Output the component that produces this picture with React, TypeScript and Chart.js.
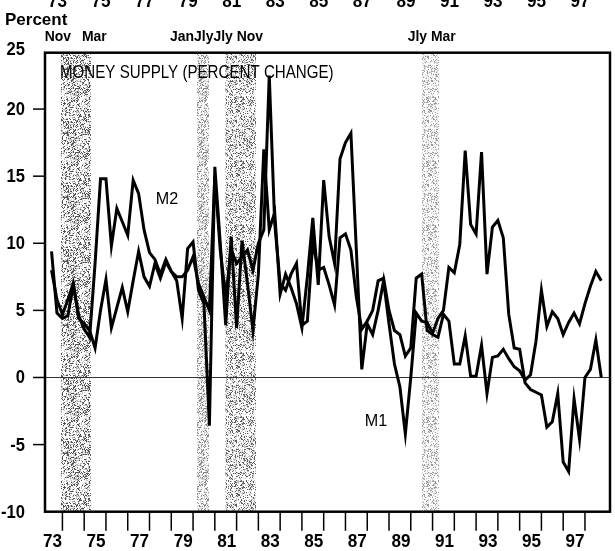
import React, { useEffect, useRef } from "react";
import { Chart, registerables } from "chart.js";

Chart.register(...registerables);

// Quarterly observations, first point at FIRST_QUARTER, one every quarter.
const FIRST_QUARTER = 1973.5;
const QUARTER_STEP = 0.25;

// M1, percent change (annual rate)
const m1Values = [
  8.0, 5.8, 4.7, 5.8, 7.0, 4.4, 4.0, 3.5, 2.2, 5.0,
  7.3, 3.7, 5.2, 6.7, 4.9, 7.2, 9.4, 7.5, 6.8, 8.5,
  7.4, 8.6, 7.9, 7.2, 4.4, 9.6, 10.1, 6.5, 5.5, -3.6,
  15.7, 10.0, 3.9, 10.5, 3.7, 10.2, 7.0, 3.5, 7.7, 17.0,
  11.0, 12.3, 6.2, 7.7, 6.7, 5.5, 3.7, 7.5, 11.9, 6.9,
  14.7, 10.5, 8.5, 16.3, 17.5, 18.2, 9.5, 0.6, 4.0, 3.2,
  5.0, 7.2, 4.0, 1.0, -0.7, -4.2, 0.0, 4.8, 4.2, 4.1,
  3.3, 4.4, 5.0, 8.2, 7.8, 9.9, 16.9, 11.4, 10.7, 16.8,
  7.7, 11.2, 11.7, 10.4, 4.7, 2.2, 2.1, -0.4, -0.9, -1.1,
  -1.3, -3.7, -3.3, -1.2, -6.3, -7.0, -1.6, -4.6, 0.0, 0.6,
  2.8, 0.0,
];

// M2, percent change (annual rate)
const m2Values = [
  9.4, 4.8, 4.4, 4.6, 6.9, 4.6, 3.6, 3.0, 8.5, 14.8,
  14.8, 9.8, 12.6, 11.6, 10.6, 14.7, 13.7, 11.0, 9.3, 8.8,
  7.7, 8.8, 7.9, 7.5, 7.5, 8.0, 9.0, 7.0, 6.0, 5.0,
  15.0, 9.5, 6.0, 9.5, 8.5, 9.0, 9.5, 8.0, 10.0, 11.0,
  22.5, 11.5, 7.0, 6.5, 7.7, 8.5, 3.9, 4.2, 10.1, 8.0,
  8.2, 6.9, 5.4, 10.4, 10.7, 9.5, 6.0, 3.6, 4.2, 5.0,
  7.2, 7.4, 5.0, 3.5, 3.2, 1.6, 2.2, 7.4, 7.7, 3.5,
  3.2, 3.0, 4.7, 4.2, 1.0, 1.0, 3.1, 0.1, 0.1, 2.4,
  -1.2, 1.5, 1.6, 2.1, 1.4, 0.8, 0.5, -0.2, 0.2, 2.7,
  6.5, 3.8, 4.9, 4.4, 3.2, 4.1, 4.8, 4.0, 5.5, 6.8,
  7.9, 7.2,
];

// Axis values
const yTickValues = [-10, -5, 0, 5, 10, 15, 20, 25];
const yearTickValues = [
  1974, 1975, 1976, 1977, 1978, 1979, 1980, 1981, 1982, 1983, 1984, 1985,
  1986, 1987, 1988, 1989, 1990, 1991, 1992, 1993, 1994, 1995, 1996, 1997, 1998,
];
const yearLabelYears = [1973, 1975, 1977, 1979, 1981, 1983, 1985, 1987, 1989, 1991, 1993, 1995, 1997];
const yearLabelTexts = ["73", "75", "77", "79", "81", "83", "85", "87", "89", "91", "93", "95", "97"];

// Recession shading (start, end) in decimal years
const recessionStarts = [1973.93, 1980.18, 1981.49, 1990.52];
const recessionEnds = [1975.31, 1980.73, 1982.89, 1991.3];

// Labels above the frame, anchored at dates
const eventTexts = ["Nov", "Mar", "JanJlyJly Nov", "Jly Mar"];
const eventDates = [1973.83, 1975.17, 1980.0, 1990.5];

const X_MIN = 1973.2;
const X_MAX = 1999.15;
const Y_MIN = -10;
const Y_MAX = 24.2;

const FONT = "'Liberation Sans', Arial, Helvetica, sans-serif";

function drawText(
  ctx: CanvasRenderingContext2D,
  text: string,
  x: number,
  y: number,
  font: string,
  align: CanvasTextAlign,
  scaleX = 1,
  baseline: CanvasTextBaseline = "middle"
) {
  ctx.save();
  ctx.translate(x, y);
  ctx.scale(scaleX, 1);
  ctx.font = font;
  ctx.textAlign = align;
  ctx.textBaseline = baseline;
  ctx.fillStyle = "#000";
  ctx.fillText(text, 0, 0);
  ctx.restore();
}

// deterministic integer hash used only for the stipple texture of the shading
function cellHash(x: number, y: number): number {
  let h = Math.imul(x, 374761393) + Math.imul(y, 668265263);
  h = Math.imul(h ^ (h >>> 13), 1274126177);
  h = h ^ (h >>> 16);
  return (h >>> 0) / 4294967296;
}

function makeStipple(): CanvasPattern | string {
  const size = 64;
  const tile = document.createElement("canvas");
  tile.width = size;
  tile.height = size;
  const t = tile.getContext("2d");
  if (!t) return "rgba(150,150,150,0.55)";
  for (let y = 0; y < size; y++) {
    for (let x = 0; x < size; x++) {
      const r = cellHash(x, y);
      if (r < 0.22) {
        t.fillStyle = "rgba(30,30,30,0.9)";
        t.fillRect(x, y, 1, 1);
      } else if (r < 0.45) {
        t.fillStyle = "rgba(150,150,150,0.7)";
        t.fillRect(x, y, 1, 1);
      }
    }
  }
  const p = t.createPattern(tile, "repeat");
  return p || "rgba(150,150,150,0.55)";
}

const bandAlpha = [0.85, 0.6, 0.8, 0.5];

const decorPlugin = {
  id: "decor",
  beforeDatasetsDraw(chart: any) {
    const { ctx, chartArea, scales } = chart;
    const xs = scales.x;
    const ys = scales.y;
    ctx.save();
    const fill = makeStipple();
    for (let i = 0; i < recessionStarts.length; i++) {
      const x0 = xs.getPixelForValue(recessionStarts[i]);
      const x1 = xs.getPixelForValue(recessionEnds[i]);
      ctx.globalAlpha = bandAlpha[i];
      ctx.fillStyle = fill;
      ctx.fillRect(x0, chartArea.top, x1 - x0, chartArea.bottom - chartArea.top);
    }
    ctx.globalAlpha = 1;
    const y0 = ys.getPixelForValue(0);
    ctx.strokeStyle = "#333";
    ctx.lineWidth = 1.2;
    ctx.beginPath();
    ctx.moveTo(chartArea.left, y0);
    ctx.lineTo(chartArea.right, y0);
    ctx.stroke();
    ctx.restore();
  },
  afterDraw(chart: any) {
    const { ctx, chartArea, scales } = chart;
    const xs = scales.x;
    const ys = scales.y;
    const { left, right, top, bottom } = chartArea;
    ctx.save();
    ctx.strokeStyle = "#000";
    ctx.lineWidth = 2.5;
    ctx.strokeRect(left, top, right - left, bottom - top);

    ctx.lineWidth = 1.5;
    for (const v of yTickValues) {
      let py = ys.getPixelForValue(v);
      if (v > -10 && v < 25) {
        ctx.beginPath();
        ctx.moveTo(left - 12, py);
        ctx.lineTo(left, py);
        ctx.stroke();
      }
      if (v === 25) py = top - 4;
      drawText(ctx, String(v), 25, py + 1, `bold 18px ${FONT}`, "right", 0.92);
    }

    for (const yr of yearTickValues) {
      const px = xs.getPixelForValue(yr);
      ctx.beginPath();
      ctx.moveTo(px, bottom);
      ctx.lineTo(px, bottom + 19);
      ctx.stroke();
    }
    for (let i = 0; i < yearLabelYears.length; i++) {
      const px = xs.getPixelForValue(yearLabelYears[i] + 0.5);
      drawText(ctx, yearLabelTexts[i], px + 1, 547, `bold 18px ${FONT}`, "center", 0.95, "alphabetic");
      drawText(ctx, yearLabelTexts[i], px + 6, 7, `bold 18px ${FONT}`, "center", 0.95, "alphabetic");
    }

    drawText(ctx, "Percent", 5, 25, `bold 17px ${FONT}`, "left", 1.0, "alphabetic");

    const eventOffsets = [-14, -6, -23, -14];
    for (let i = 0; i < eventTexts.length; i++) {
      const px = xs.getPixelForValue(eventDates[i]) + eventOffsets[i];
      drawText(ctx, eventTexts[i], px, 41, `bold 15px ${FONT}`, "left", 0.93, "alphabetic");
    }

    drawText(ctx, "MONEY SUPPLY (PERCENT CHANGE)", left + 15, 78, `18px ${FONT}`, "left", 0.84, "alphabetic");

    drawText(ctx, "M2", xs.getPixelForValue(1978.8), ys.getPixelForValue(13.3), `17px ${FONT}`, "center", 0.95);
    drawText(ctx, "M1", xs.getPixelForValue(1988.4), ys.getPixelForValue(-3.3), `17px ${FONT}`, "center", 0.95);
    ctx.restore();
  },
};

export default function App() {
  const canvasRef = useRef<HTMLCanvasElement | null>(null);

  useEffect(() => {
    const canvas = canvasRef.current;
    if (!canvas) return;
    const toPoints = (vals: number[]) =>
      vals.map((v, i) => ({ x: FIRST_QUARTER + i * QUARTER_STEP, y: v }));

    const chart = new Chart(canvas, {
      type: "line",
      data: {
        datasets: [
          {
            label: "M1",
            data: toPoints(m1Values),
            borderColor: "#000",
            borderWidth: 3,
            pointRadius: 0,
            tension: 0,
            borderJoinStyle: "miter",
          },
          {
            label: "M2",
            data: toPoints(m2Values),
            borderColor: "#000",
            borderWidth: 3,
            pointRadius: 0,
            tension: 0,
            borderJoinStyle: "miter",
          },
        ],
      },
      options: {
        responsive: false,
        animation: false,
        devicePixelRatio: 1,
        layout: { padding: { left: 45, right: 5, top: 52.7, bottom: 39.3 } },
        plugins: {
          legend: { display: false },
          tooltip: { enabled: false },
        },
        scales: {
          x: { type: "linear", min: X_MIN, max: X_MAX, display: false },
          y: { type: "linear", min: Y_MIN, max: Y_MAX, display: false },
        },
      },
      plugins: [decorPlugin],
    });
    return () => chart.destroy();
  }, []);

  return (
    <div style={{ position: "absolute", left: 0, top: 0, width: 615, height: 551, background: "#fff" }}>
      <canvas ref={canvasRef} width={615} height={551} style={{ display: "block" }} />
    </div>
  );
}
